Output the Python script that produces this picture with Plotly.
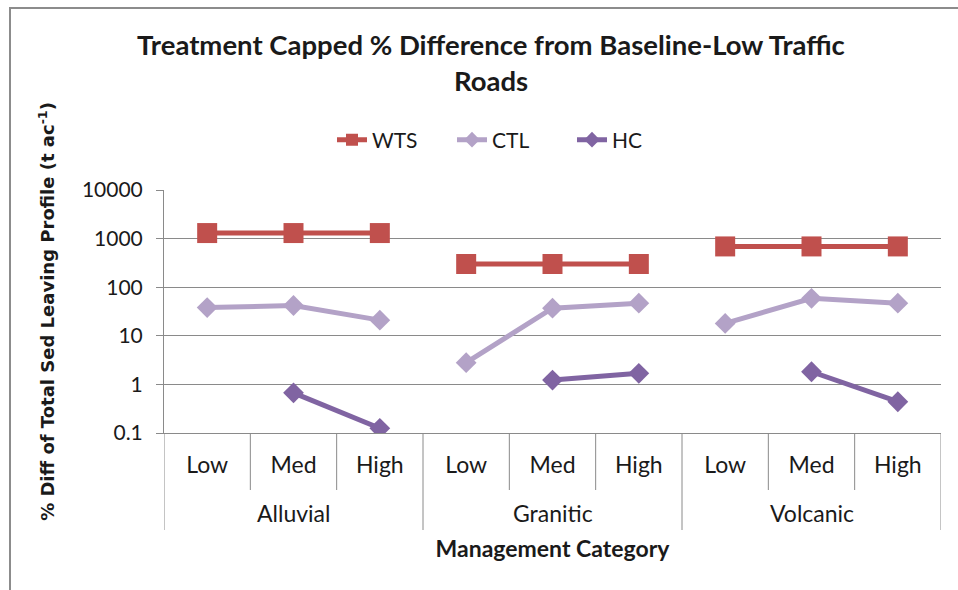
import plotly.graph_objects as go

groups = ["Alluvial", "Granitic", "Volcanic"]
levels = ["Low", "Med", "High"]

wts = {"Alluvial": [1300, 1300, 1300], "Granitic": [300, 300, 300], "Volcanic": [690, 690, 690]}
ctl = {"Alluvial": [38, 42, 21], "Granitic": [2.8, 37, 47], "Volcanic": [18, 59, 47]}
hc = {"Alluvial": [None, 0.67, 0.125], "Granitic": [None, 1.23, 1.69], "Volcanic": [None, 1.82, 0.44]}

y_tickvals = [0.1, 1, 10, 100, 1000, 10000]
y_ticktext = ["0.1", "1", "10", "100", "1000", "10000"]

# unique category keys, one per (group, level)
cat_keys = [f"{g} {lv}" for g in groups for lv in levels]
cat_text = [lv for g in groups for lv in levels]

series = [
    ("WTS", wts, "#C0504D", "square", 20),
    ("CTL", ctl, "#B3A2C7", "diamond", 16),
    ("HC", hc, "#8064A2", "diamond", 16),
]

fig = go.Figure()
for name, data, color, symbol, msize in series:
    for i, g in enumerate(groups):
        fig.add_trace(go.Scatter(
            x=[f"{g} {lv}" for lv in levels],
            y=data[g],
            mode="lines+markers",
            name=name,
            legendgroup=name,
            showlegend=(i == 0),
            line=dict(color=color, width=5),
            marker=dict(color=color, symbol=symbol, size=msize),
            connectgaps=False,
        ))

FONT = "Lato"
TXT = "#1a1a1a"
GRID = "#8a8a8a"

# plot area in px: x 164..941, y 190..433
L, R, T, B = 164, 958 - 941, 190, 590 - 433
pw = 958 - L - R
ph = 590 - T - B

shapes = [
    dict(type="rect", xref="paper", yref="paper",
         x0=(10 - L) / pw, x1=3, y0=-3, y1=(433 - 8) / ph,
         line=dict(color="#8c8c8c", width=2), fillcolor="rgba(0,0,0,0)", layer="below"),
]
# category boundaries (short) and group boundaries (long) below the axis
n = len(cat_keys)
for k in range(n + 1):
    is_group = (k % len(levels) == 0)
    shapes.append(dict(
        type="line", xref="x", yref="paper",
        x0=k - 0.5, x1=k - 0.5,
        y0=0, y1=-((530 if is_group else 490) - 433) / ph,
        line=dict(color=GRID, width=1),
    ))

annotations = []
for g in groups:
    annotations.append(dict(
        x=f"{g} {levels[1]}", xref="x", y=-(513 - 433) / ph, yref="paper",
        text=g, showarrow=False, xanchor="center", yanchor="middle",
        font=dict(family=FONT, size=23, color=TXT),
    ))

fig.update_layout(
    width=958, height=590,
    margin=dict(l=L, r=R, t=T, b=B, autoexpand=False),
    paper_bgcolor="white", plot_bgcolor="white",
    font=dict(family=FONT, color=TXT),
    title=dict(
        text="<b>Treatment Capped % Difference from Baseline-Low Traffic<br>Roads</b>",
        font=dict(family=FONT, size=27.5, color=TXT),
        x=491 / 958, xanchor="center", xref="container",
        y=1 - 55 / 590, yanchor="middle", yref="container",
    ),
    legend=dict(
        orientation="h",
        x=512 / 958, xanchor="center", xref="container",
        y=1 - 140 / 590, yanchor="middle", yref="container",
        font=dict(family=FONT, size=21, color=TXT),
        itemsizing="constant",
        traceorder="normal",
        entrywidth=75,
    ),
    showlegend=True,
    xaxis=dict(
        type="category",
        categoryorder="array", categoryarray=cat_keys,
        range=[-0.5, n - 0.5],
        tickvals=cat_keys, ticktext=cat_text,
        showgrid=False,
        showline=True, linecolor=GRID, linewidth=1,
        ticks="",
        ticklabelstandoff=11,
        tickfont=dict(family=FONT, size=23, color=TXT),
        title=dict(text="<b>Management Category</b>", font=dict(family=FONT, size=23, color=TXT), standoff=64),
    ),
    yaxis=dict(
        type="log", range=[-1, 4],
        tickvals=y_tickvals, ticktext=y_ticktext,
        showgrid=True, gridcolor=GRID, gridwidth=1,
        showline=True, linecolor=GRID, linewidth=1,
        ticks="outside", ticklen=7, tickcolor=GRID,
        ticklabelstandoff=9,
        tickfont=dict(family=FONT, size=21, color=TXT),
        title=dict(text="<b>% Diff of Total Sed Leaving Profile (t ac<sup>-1</sup>)</b>",
                   font=dict(family="DejaVu Sans", size=18, color=TXT), standoff=22),
        zeroline=False,
    ),
    shapes=shapes,
    annotations=annotations,
)

fig.write_html("out.html", config={"displayModeBar": False},
               post_script="document.body.style.margin='0px';")
